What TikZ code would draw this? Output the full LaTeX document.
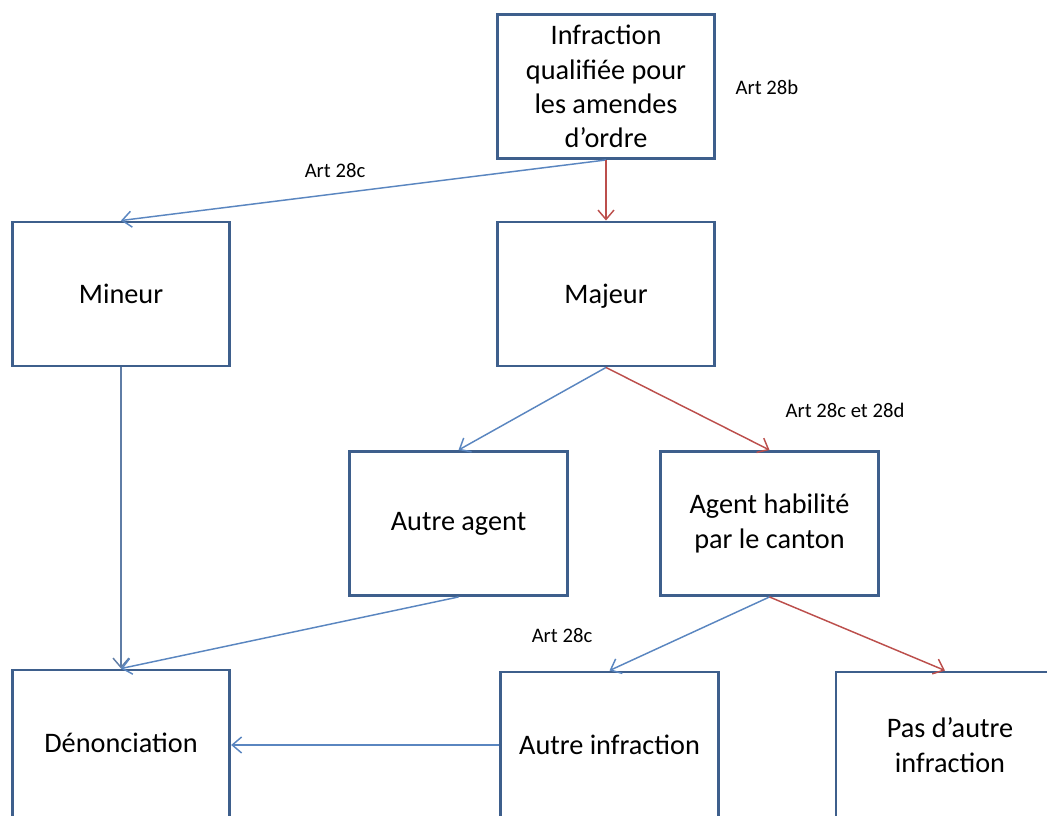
\documentclass[tikz,border=0pt]{standalone}
\usepackage{fontspec}
\setmainfont{Carlito}
\usetikzlibrary{arrows.meta}
\definecolor{boxblue}{HTML}{3E5F8C}
\definecolor{arrblue}{HTML}{5A86C0}
\definecolor{arrred}{HTML}{BC4F4C}
\definecolor{arrgrey}{HTML}{5F7DA6}
\tikzset{
  boxnode/.style={shape=rectangle,draw=boxblue,line width=2.2pt,
    minimum width=163pt,minimum height=108pt,inner sep=0pt,
    align=center,font=\fontsize{21.2}{25.7}\selectfont},
  lowbox/.style={boxnode,minimum height=124.5pt,text depth=15pt},
  artlabel/.style={font=\fontsize{15.5}{18}\selectfont,inner sep=0pt},
  blueline/.style={draw=arrblue,line width=1.1pt},
  redline/.style={draw=arrred,line width=1.1pt},
  greyline/.style={draw=arrgrey,line width=1.1pt},
}
\begin{document}
\begin{tikzpicture}[x=0.75pt,y=-0.75pt,>={Straight Barb[length=7pt,width=12pt]}]
\clip (0,0) rectangle (1047,816);
\node(infr)    at (606,86.5)[boxnode]  {Infraction\\qualifiée pour\\les amendes\\d’ordre};
\node(mineur)  at (121,294)[boxnode]   {Mineur};
\node(majeur)  at (606,294)[boxnode,text depth=0pt] {Majeur};
\node(autreag) at (458.5,523.5)[boxnode] {Autre agent};
\node(agenth)  at (769.5,523.5)[boxnode] {Agent habilité\\par le canton};
\node(denonc)  at (121,753)[lowbox]    {Dénonciation};
\node(autreinf) at (609.5,755)[lowbox] {Autre infraction};
\node(pasautre) at (950,755)[lowbox,minimum width=171pt] {Pas d’autre\\infraction};

\node(art28b)  at (767,87)[artlabel]   {Art 28b};
\node(art28c)  at (335,171)[artlabel]  {Art 28c};
\node(art28cd) at (845,410)[artlabel]  {Art 28c et 28d};
\node(art28cb) at (562,636)[artlabel]  {Art 28c};

\path [->]
  (infr.south)     edge [blueline]  (mineur.north)
  (infr.south)     edge [redline]   (majeur.north)
  (majeur.south)   edge [blueline]  (autreag.north)
  (majeur.south)   edge [redline]   (agenth.north)
  (mineur.south)   edge [greyline]  (denonc.north)
  (autreag.south)  edge [blueline]  (denonc.north)
  (agenth.south)   edge [blueline]  (autreinf.north)
  (agenth.south)   edge [redline]   ([xshift=-3.75pt]pasautre.north)
  ([yshift=7.5pt]autreinf.west) edge [blueline] ([yshift=6pt]denonc.east);

\end{tikzpicture}
\end{document}
